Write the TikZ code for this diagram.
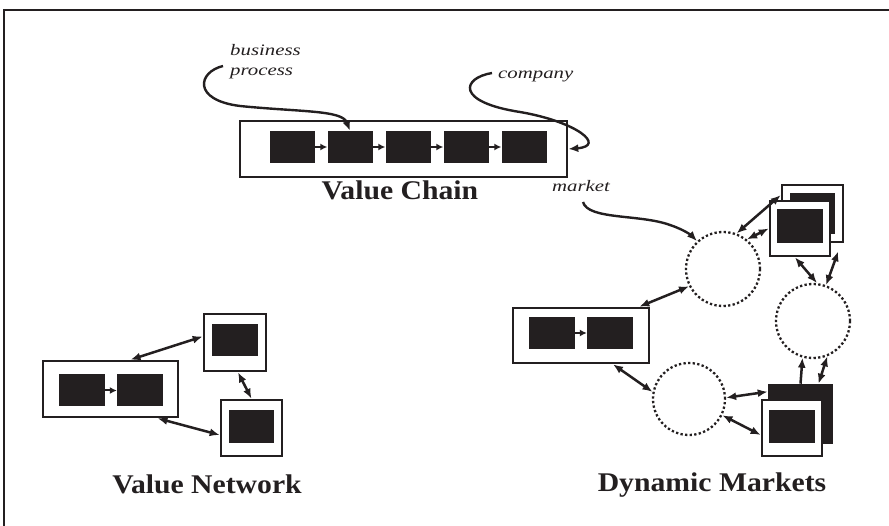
\documentclass[tikz,border=0pt]{standalone}
\usepackage{fontspec}
\setmainfont{Liberation Serif}
\usetikzlibrary{arrows.meta,calc}
\definecolor{ink}{RGB}{35,31,32}
\newcommand{\lblit}[1]{\scalebox{1.3}[1]{\fontsize{16}{16}\selectfont\itshape #1}}
\newcommand{\lbltitle}[1]{\scalebox{1.1}[1]{\fontsize{27}{27}\selectfont\bfseries #1}}
\begin{document}
\begin{tikzpicture}[x=1pt,y=-1pt,
  box/.style={draw=ink,line width=2.6,fill=white,inner sep=0},
  blk/.style={fill=ink,draw=none,minimum width=46,minimum height=32,inner sep=0},
  mkt/.style={circle,draw=ink,line width=2.3,dash pattern=on 2.3pt off 2.3pt,minimum size=74,inner sep=0},
  dbl/.style={{Latex[length=10,width=8]}-{Latex[length=10,width=8]},draw=ink,line width=2.5},
  sgl/.style={-{Latex[length=10,width=8]},draw=ink,line width=2.5},
  small/.style={-{Latex[length=7,width=7]},draw=ink,line width=2},
  callout/.style={-{Latex[length=10,width=8]},draw=ink,line width=2.4},
  lbl/.style={inner sep=0,anchor=base west,text=ink},
  title/.style={inner sep=0,text=ink}
]
\useasboundingbox (0,0) rectangle (889,526);
% frame
\draw[ink,line width=1.8] (4,526) -- (4,10) -- (889,10);

% ---------- Value Chain ----------
\node[box,minimum width=327,minimum height=56] (chain) at (403.5,149) {};
\foreach \i/\x in {1/292,2/350,3/408,4/466,5/524}
  \node[blk,minimum width=45] (p\i) at (\x,147) {};
\foreach \a/\b in {p1/p2,p2/p3,p3/p4,p4/p5}
  \draw[small] (\a.east) -- (\b.west);
\node[title] (vctitle) at (400,190) {\lbltitle{Value Chain}};

\node[lbl] (biz) at (230,56) {\lblit{business}};
\node[lbl] (proc) at (230,76) {\lblit{process}};
\coordinate (bizstart) at (223,66);
\draw[callout] (bizstart) .. controls (198,72) and (192,100) .. (240,106)
  .. controls (300,112) and (342,110) .. (p2.north);

\node[lbl] (comp) at (498,79) {\lblit{company}};
\coordinate (compstart) at (492,73);
\draw[callout] (compstart) .. controls (462,78) and (455,102) .. (520,112)
  .. controls (578,122) and (606,146) .. (chain.east);

% ---------- Value Network ----------
\node[box,minimum width=135,minimum height=56] (vnrect) at (110.5,389) {};
\node[blk] (vn1) at (82,390.5) {};
\node[blk] (vn2) at (140,390.5) {};
\draw[small] (vn1.east) -- (vn2.west);
\node[box,minimum width=62,minimum height=57] (vntop) at (235,342.5) {};
\node[blk] (vntopin) at (235,340) {};
\node[box,minimum width=61,minimum height=56] (vnbot) at (251.5,428) {};
\node[blk,minimum width=45,minimum height=33] (vnbotin) at (251.5,426.5) {};
\draw[dbl] ($(vnrect.north)+(20,0)$) -- ($(vntop.west)+(0,-6)$);
\draw[dbl] ($(vntop.south)+(3,0)$) -- (vnbot.north);
\draw[dbl] ($(vnrect.south)+(47,0)$) -- ($(vnbot.west)+(0,7)$);
\node[title] (vntitle) at (207,484) {\lbltitle{Value Network}};

% ---------- Dynamic Markets ----------
\node[mkt] (c1) at (723,269) {};
\node[mkt] (c2) at (813,321) {};
\node[mkt,minimum size=72] (c3) at (689,399) {};

\node[box,minimum width=136,minimum height=55] (dmrect) at (581,335.5) {};
\node[blk] (dm1) at (552,333) {};
\node[blk] (dm2) at (610,333) {};
\draw[small] (dm1.east) -- (dm2.west);

% top-right stacked companies
\node[box,minimum width=61,minimum height=57] (trback) at (812.5,213.5) {};
\node[blk,minimum width=45,minimum height=41] (trbackin) at (812.5,213.5) {};
\node[box,minimum width=60,minimum height=55] (trfront) at (800,228.5) {};
\node[blk,minimum width=46,minimum height=34] (trfrontin) at (800,226) {};

% bottom-right stacked companies
\node[box,fill=ink,minimum width=63,minimum height=58] (brback) at (800.5,414) {};
\node[box,minimum width=60,minimum height=56] (brfront) at (792,428) {};
\node[blk,minimum width=46,minimum height=33] (brfrontin) at (792,426.5) {};

\node[lbl] (mktlbl) at (552,192) {\lblit{market}};
\coordinate (mktstart) at (583,202);
\draw[callout] (mktstart) .. controls (588,220) and (640,214) .. (670,225)
  .. controls (685,230) and (692,236) .. (c1.133);

\draw[dbl] (c1.69) -- (trback.150);
\draw[dbl] (c1.51) -- (trfront.west);
\draw[dbl] (trfront.260) -- (c2.84);
\draw[dbl] ($(trback.south east)+(-6,8)$) -- (c2.70);
\draw[dbl] (c1.207) -- ($(dmrect.north east)+(-11,0)$);
\draw[dbl] ($(dmrect.south)+(32,0)$) -- (c3.169);
\draw[dbl] (c3.2) -- ($(brback.north west)+(0,8)$);
\draw[dbl] (c3.334) -- ($(brfront.west)+(0,7)$);
\draw[sgl] (brback.north) -- (c2.254);
\draw[dbl] ($(brback.north)+(18,0)$) -- (c2.292);

\node[title] (dmtitle) at (712,485) {\lbltitle{Dynamic Markets}};
\end{tikzpicture}
\end{document}
